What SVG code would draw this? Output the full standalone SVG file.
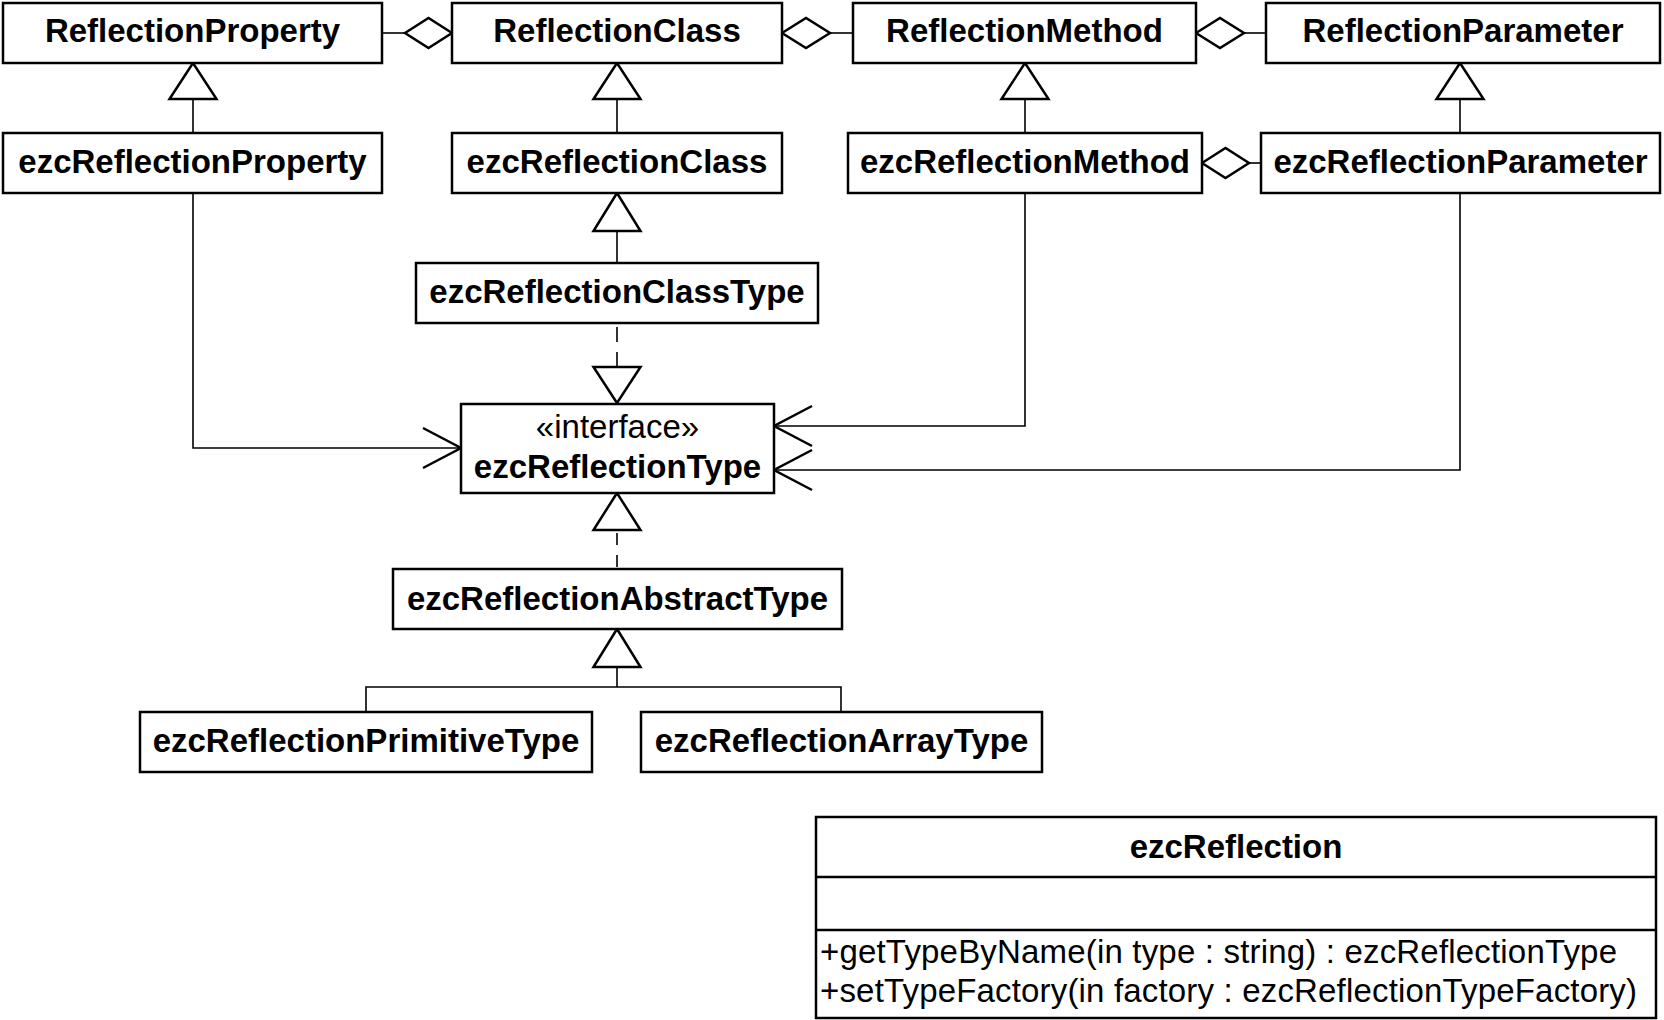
<svg xmlns="http://www.w3.org/2000/svg" width="1664" height="1020" viewBox="0 0 1664 1020">
<style>
  .box { fill: #fff; stroke: #000; stroke-width: 2.5; }
  .t { font-family: "Liberation Sans", Arial, sans-serif; font-size: 33px; font-weight: bold; fill: #000; text-anchor: middle; }
  .r { font-family: "Liberation Sans", Arial, sans-serif; font-size: 33px; fill: #000; }
  .c { text-anchor: middle; }
  .ln { fill: none; stroke: #000; stroke-width: 1.6; }
  .dash { fill: none; stroke: #000; stroke-width: 1.6; stroke-dasharray: 15 10; }
  .tri { fill: #fff; stroke: #000; stroke-width: 2.5; stroke-linejoin: miter; }
  .dia { fill: #fff; stroke: #000; stroke-width: 2.5; }
  .arr { fill: none; stroke: #000; stroke-width: 2.5; }
</style>
<rect width="1664" height="1020" fill="#fff"/>

<g id="connectors">
  <!-- aggregations row 1 -->
  <line class="ln" x1="382" y1="33" x2="405" y2="33"/>
  <polygon class="dia" points="405,33 428.5,18 452,33 428.5,48"/>
  <polygon class="dia" points="782,33 806,18 830,33 806,48"/>
  <line class="ln" x1="830" y1="33" x2="853" y2="33"/>
  <polygon class="dia" points="1196,33 1220,18 1244,33 1220,48"/>
  <line class="ln" x1="1244" y1="33" x2="1266" y2="33"/>
  <!-- aggregation row 2 -->
  <polygon class="dia" points="1202,163 1225.5,148 1249,163 1225.5,178"/>
  <line class="ln" x1="1249" y1="163" x2="1261" y2="163"/>

  <!-- generalizations row2 -> row1 -->
  <line class="ln" x1="193" y1="99" x2="193" y2="133"/>
  <polygon class="tri" points="193,63 169.5,99 216.5,99"/>
  <line class="ln" x1="617" y1="99" x2="617" y2="133"/>
  <polygon class="tri" points="617,63 593.5,99 640.5,99"/>
  <line class="ln" x1="1025" y1="99" x2="1025" y2="133"/>
  <polygon class="tri" points="1025,63 1001.5,99 1048.5,99"/>
  <line class="ln" x1="1460" y1="99" x2="1460" y2="133"/>
  <polygon class="tri" points="1460,63 1436.5,99 1483.5,99"/>

  <!-- ezcReflectionClassType -> ezcReflectionClass -->
  <line class="ln" x1="617" y1="231" x2="617" y2="263"/>
  <polygon class="tri" points="617,193 593.5,231 640.5,231"/>

  <!-- ezcReflectionClassType realizes ezcReflectionType -->
  <line class="dash" x1="617" y1="367" x2="617" y2="323"/>
  <polygon class="tri" points="617,403 593.5,367 640.5,367"/>

  <!-- ezcReflectionAbstractType realizes ezcReflectionType -->
  <line class="dash" x1="617" y1="567" x2="617" y2="530" style="stroke-dasharray:12 10"/>
  <polygon class="tri" points="617,493 593.5,530 640.5,530"/>

  <!-- subclasses of ezcReflectionAbstractType -->
  <polyline class="ln" points="366,712 366,687 841,687 841,712"/>
  <line class="ln" x1="617" y1="667" x2="617" y2="687"/>
  <polygon class="tri" points="617,629 593.5,667 640.5,667"/>

  <!-- associations to ezcReflectionType -->
  <polyline class="ln" points="193,193 193,448 461,448"/>
  <polyline class="arr" points="423,428 461,448 423,468"/>
  <polyline class="ln" points="1025,193 1025,426 774,426"/>
  <polyline class="arr" points="812,406 774,426 812,446"/>
  <polyline class="ln" points="1460,193 1460,470 774,470"/>
  <polyline class="arr" points="812,450 774,470 812,490"/>
</g>

<g id="ReflectionProperty">
  <rect class="box" x="3" y="3" width="379" height="60"/>
  <text class="t" x="192.5" y="42">ReflectionProperty</text>
</g>
<g id="ReflectionClass">
  <rect class="box" x="452" y="3" width="330" height="60"/>
  <text class="t" x="617" y="42">ReflectionClass</text>
</g>
<g id="ReflectionMethod">
  <rect class="box" x="853" y="3" width="343" height="60"/>
  <text class="t" x="1024.5" y="42">ReflectionMethod</text>
</g>
<g id="ReflectionParameter">
  <rect class="box" x="1266" y="3" width="394" height="60"/>
  <text class="t" x="1463" y="42">ReflectionParameter</text>
</g>

<g id="ezcReflectionProperty">
  <rect class="box" x="3" y="133" width="379" height="60"/>
  <text class="t" x="192.5" y="173">ezcReflectionProperty</text>
</g>
<g id="ezcReflectionClass">
  <rect class="box" x="452" y="133" width="330" height="60"/>
  <text class="t" x="617" y="173">ezcReflectionClass</text>
</g>
<g id="ezcReflectionMethod">
  <rect class="box" x="848" y="133" width="354" height="60"/>
  <text class="t" x="1025" y="173">ezcReflectionMethod</text>
</g>
<g id="ezcReflectionParameter">
  <rect class="box" x="1261" y="133" width="399" height="60"/>
  <text class="t" x="1460.5" y="173">ezcReflectionParameter</text>
</g>

<g id="ezcReflectionClassType">
  <rect class="box" x="416" y="263" width="402" height="60"/>
  <text class="t" x="617" y="303">ezcReflectionClassType</text>
</g>

<g id="ezcReflectionType">
  <rect class="box" x="461" y="404" width="313" height="89"/>
  <text class="r c" x="617.5" y="438">«interface»</text>
  <text class="t" x="617.5" y="478">ezcReflectionType</text>
</g>

<g id="ezcReflectionAbstractType">
  <rect class="box" x="393" y="569" width="449" height="60"/>
  <text class="t" x="617.5" y="610">ezcReflectionAbstractType</text>
</g>

<g id="ezcReflectionPrimitiveType">
  <rect class="box" x="140" y="712" width="452" height="60"/>
  <text class="t" x="366" y="752">ezcReflectionPrimitiveType</text>
</g>
<g id="ezcReflectionArrayType">
  <rect class="box" x="641" y="712" width="401" height="60"/>
  <text class="t" x="841.5" y="752">ezcReflectionArrayType</text>
</g>

<g id="ezcReflection">
  <rect class="box" x="816" y="817" width="840" height="201"/>
  <line class="box" x1="816" y1="877" x2="1656" y2="877"/>
  <line class="box" x1="816" y1="930" x2="1656" y2="930"/>
  <text class="t" x="1236" y="858">ezcReflection</text>
  <text class="r" x="820" y="963" textLength="797" lengthAdjust="spacing">+getTypeByName(in type : string) : ezcReflectionType</text>
  <text class="r" x="820" y="1002" textLength="817" lengthAdjust="spacing">+setTypeFactory(in factory : ezcReflectionTypeFactory)</text>
</g>
</svg>
